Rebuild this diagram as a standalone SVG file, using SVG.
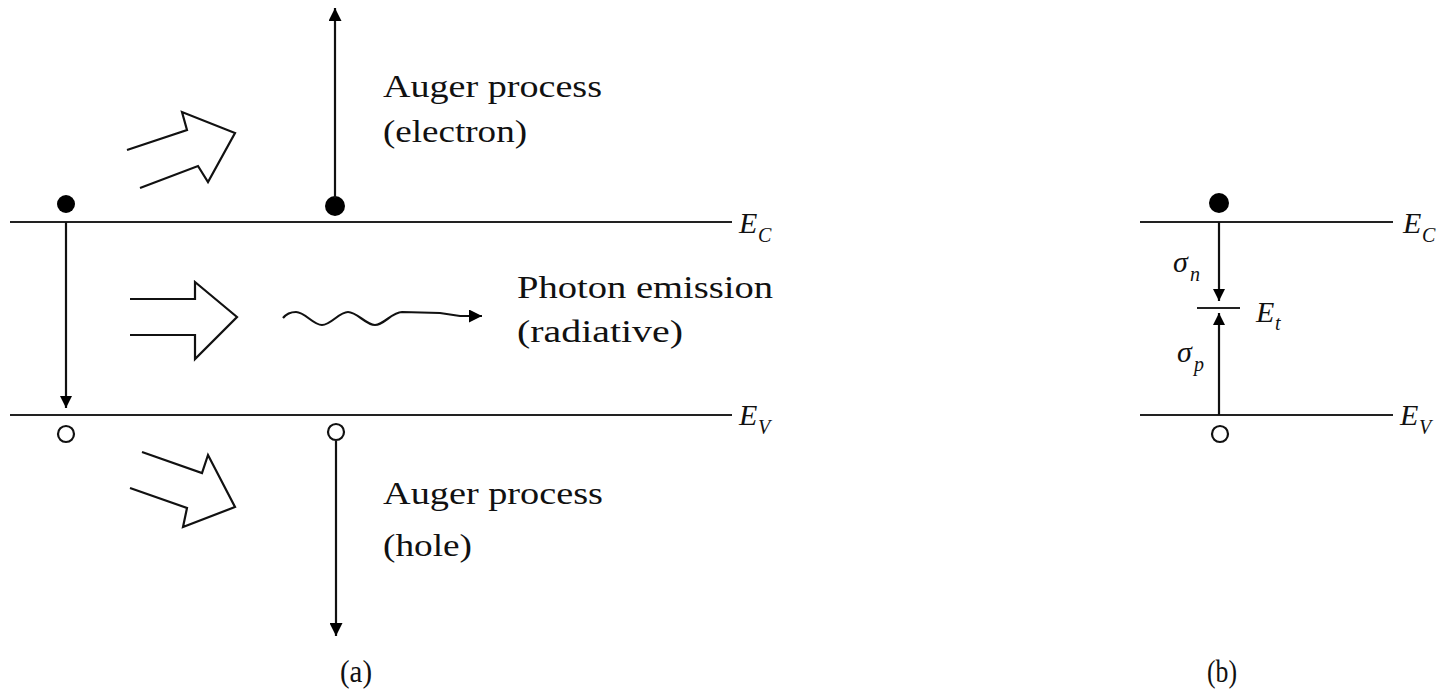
<svg xmlns="http://www.w3.org/2000/svg" width="1451" height="693" viewBox="0 0 1451 693">
<style>
.ln{stroke:#111;stroke-width:2.2;fill:none}
.band{stroke:#222;stroke-width:2;fill:none}
.hol{stroke:#111;stroke-width:2.2;fill:#fff;stroke-linejoin:miter}
.txt{font-family:"Liberation Serif","DejaVu Serif",serif;font-size:32px;fill:#111}
.sym{font-family:"Liberation Serif","DejaVu Serif",serif;font-style:italic;font-size:30px;fill:#111}
.sub{font-family:"Liberation Serif","DejaVu Serif",serif;font-style:italic;font-size:20px;fill:#111}
.dot{fill:#000}
.hole{fill:#fff;stroke:#111;stroke-width:2.2}
</style>
<defs>
<marker id="ah" viewBox="0 0 10 10" refX="10" refY="5" markerWidth="12" markerHeight="12" markerUnits="userSpaceOnUse" orient="auto">
<path d="M0,0 L10,5 L0,10 Z" fill="#000"/>
</marker>
<marker id="ah2" viewBox="0 0 10 10" refX="10" refY="5" markerWidth="13" markerHeight="13" markerUnits="userSpaceOnUse" orient="auto">
<path d="M0,0 L10,5 L0,10 Z" fill="#000"/>
</marker>
</defs>
<rect width="1451" height="693" fill="#fff"/>

<g id="bands-a">
<line class="band" x1="10" y1="222" x2="732" y2="222"/>
<line class="band" x1="10" y1="415" x2="732" y2="415"/>
<text class="sym" x="739" y="233">E</text><text class="sub" x="758" y="242">C</text>
<text class="sym" x="739" y="425">E</text><text class="sub" x="758" y="434">V</text>
</g>

<g id="bands-b">
<line class="band" x1="1140" y1="222" x2="1393" y2="222"/>
<line class="band" x1="1140" y1="415" x2="1393" y2="415"/>
<line class="band" x1="1197" y1="308" x2="1240" y2="308"/>
<text class="sym" x="1403" y="233">E</text><text class="sub" x="1422" y="242">C</text>
<text class="sym" x="1400" y="425">E</text><text class="sub" x="1419" y="434">V</text>
<text class="sym" x="1256" y="322">E</text><text class="sub" x="1275" y="330">t</text>
<text class="sym" x="1173" y="272">σ</text><text class="sub" x="1190" y="281">n</text>
<text class="sym" x="1177" y="362">σ</text><text class="sub" x="1194" y="371">p</text>
</g>

<g id="carriers">
<circle class="dot" cx="66" cy="204" r="9"/>
<circle class="hole" cx="66" cy="434" r="8"/>
<circle class="dot" cx="335" cy="206" r="10"/>
<circle class="hole" cx="336" cy="432" r="8"/>
<circle class="dot" cx="1219" cy="203" r="10"/>
<circle class="hole" cx="1220" cy="434" r="8"/>
</g>

<g id="connectors">
<line class="ln" x1="66" y1="222" x2="66" y2="408" marker-end="url(#ah)"/>
<line class="ln" x1="335" y1="198" x2="335" y2="8" marker-end="url(#ah2)"/>
<line class="ln" x1="336" y1="441" x2="336" y2="636" marker-end="url(#ah2)"/>
<line class="ln" x1="1219" y1="222" x2="1219" y2="301" marker-end="url(#ah)"/>
<line class="ln" x1="1219" y1="415" x2="1219" y2="313" marker-end="url(#ah)"/>
<path class="ln" d="M283,318 C287,313 291,312 296,312 C305,312 313,325 322,325 C331,325 339,312 348,312 C357,312 366,325 375,325 C384,325 392,312 402,312 L440,313 L460,316 L482,316" marker-end="url(#ah2)"/>
</g>

<g id="hollow-arrows">
<path class="hol" d="M127,150 L187,130 L182,112 L235,133 L208,182 L198,166 L140,188"/>
<path class="hol" d="M130,299 L195,299 L195,282 L237,317 L195,359 L195,335 L130,335"/>
<path class="hol" d="M142,452 L202,473 L208,455 L235,507 L183,527 L187,508 L130,488"/>
</g>

<g id="labels">
<text class="txt" x="383" y="97" textLength="219" lengthAdjust="spacingAndGlyphs">Auger process</text>
<text class="txt" x="383" y="142" textLength="144" lengthAdjust="spacingAndGlyphs">(electron)</text>
<text class="txt" x="517" y="298" textLength="256" lengthAdjust="spacingAndGlyphs">Photon emission</text>
<text class="txt" x="517" y="342" textLength="166" lengthAdjust="spacingAndGlyphs">(radiative)</text>
<text class="txt" x="383" y="504" textLength="220" lengthAdjust="spacingAndGlyphs">Auger process</text>
<text class="txt" x="383" y="556" textLength="89" lengthAdjust="spacingAndGlyphs">(hole)</text>
<text class="txt" x="340" y="682" textLength="32" lengthAdjust="spacingAndGlyphs">(a)</text>
<text class="txt" x="1207" y="682" textLength="30" lengthAdjust="spacingAndGlyphs">(b)</text>
</g>
</svg>
